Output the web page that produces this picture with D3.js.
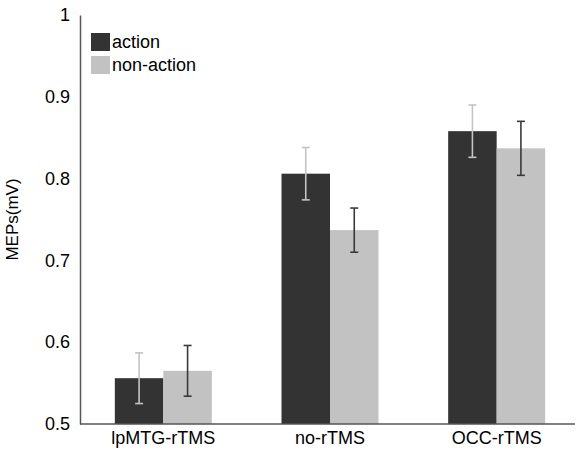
<!DOCTYPE html>
<html lang="en">
<head>
<meta charset="utf-8" />
<title>MEPs chart</title>
<script src="https://d3js.org/d3.v7.min.js"></script>
<style>
  body { margin: 0; background: #fff; }
  text { font-family: "Liberation Sans", Arial, sans-serif; fill: #000; }
</style>
</head>
<body>
<script>
  // data
  const groups = ["lpMTG-rTMS", "no-rTMS", "OCC-rTMS"];
  const conditions = ["action", "non-action"];
  const actionMeans = [0.556, 0.806, 0.858];
  const actionErr = [0.031, 0.032, 0.032];
  const nonActionMeans = [0.565, 0.737, 0.837];
  const nonActionErr = [0.031, 0.027, 0.033];
  const yTicks = [0.5, 0.6, 0.7, 0.8, 0.9, 1];

  const width = 577, height = 451;
  const svg = d3.select("body").append("svg")
    .attr("width", width).attr("height", height);

  const x0 = d3.scaleBand().domain(groups).range([80, 580])
    .paddingInner(0.418).paddingOuter(0.209);
  const x1 = d3.scaleBand().domain(conditions).range([0, x0.bandwidth()]);
  const y = d3.scaleLinear().domain([0.5, 1]).range([424, 15]);

  const fill = { "action": "#333333", "non-action": "#c2c2c2" };
  const errColor = { "action": "#c4c4c4", "non-action": "#3a3a3a" };

  const rows = [];
  groups.forEach((g, i) => {
    rows.push({ g, c: "action", v: actionMeans[i], e: actionErr[i] });
    rows.push({ g, c: "non-action", v: nonActionMeans[i], e: nonActionErr[i] });
  });

  // bars
  svg.append("g").selectAll("rect").data(rows).join("rect")
    .attr("x", d => x0(d.g) + x1(d.c))
    .attr("width", x1.bandwidth())
    .attr("y", d => y(d.v))
    .attr("height", d => y(0.5) - y(d.v))
    .attr("fill", d => fill[d.c]);

  // error bars
  const eb = svg.append("g").selectAll("g").data(rows).join("g")
    .attr("stroke", d => errColor[d.c]).attr("stroke-width", 1.6);
  const cx = d => x0(d.g) + x1(d.c) + x1.bandwidth() / 2;
  eb.append("line").attr("x1", cx).attr("x2", cx)
    .attr("y1", d => y(d.v + d.e)).attr("y2", d => y(d.v - d.e));
  eb.append("line").attr("x1", d => cx(d) - 4).attr("x2", d => cx(d) + 4)
    .attr("y1", d => y(d.v + d.e)).attr("y2", d => y(d.v + d.e));
  eb.append("line").attr("x1", d => cx(d) - 4).attr("x2", d => cx(d) + 4)
    .attr("y1", d => y(d.v - d.e)).attr("y2", d => y(d.v - d.e));

  // y axis
  const yAxis = d3.axisLeft(y).tickValues(yTicks).tickFormat(d3.format("")).tickSize(0).tickPadding(10);
  const gy = svg.append("g").attr("transform", "translate(80,0)").call(yAxis);
  gy.select(".domain").attr("stroke", "#555").attr("stroke-width", 1.5);
  gy.selectAll("text").attr("font-size", 18).style("font-family", "Liberation Sans, Arial, sans-serif").attr("fill", "#000");

  // x axis
  const xAxis = d3.axisBottom(x0).tickSize(0).tickPadding(7);
  const gx = svg.append("g").attr("transform", "translate(0,424)").call(xAxis);
  gx.select(".domain").attr("d", "M80,0H575").attr("stroke", "#555").attr("stroke-width", 1.5);
  gx.selectAll("text").attr("font-size", 18).style("font-family", "Liberation Sans, Arial, sans-serif").attr("fill", "#000");

  // y label
  svg.append("text")
    .attr("transform", `translate(18,${(y(0.5) + y(1)) / 2}) rotate(-90)`)
    .attr("text-anchor", "middle")
    .attr("font-size", 17)
    .text("MEPs(mV)");

  // legend
  const leg = svg.append("g").attr("transform", "translate(91,33)");
  conditions.forEach((c, i) => {
    leg.append("rect").attr("x", 0).attr("y", i * 23).attr("width", 19).attr("height", 18).attr("fill", fill[c]);
    leg.append("text").attr("x", 21).attr("y", i * 23 + 15).attr("font-size", 18).text(c);
  });
</script>
</body>
</html>
